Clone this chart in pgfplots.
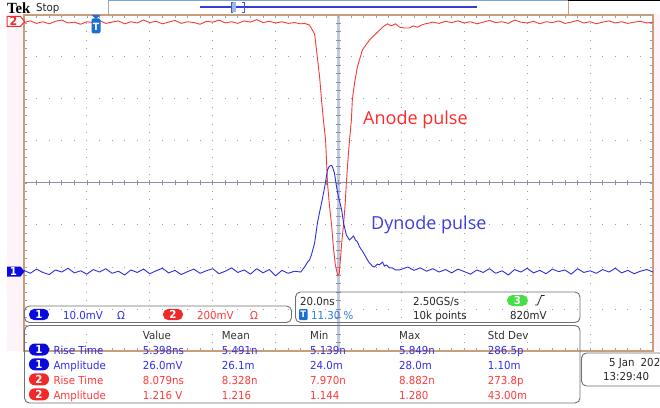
\documentclass[border=0pt]{standalone}
\usepackage{fontspec}
\setmainfont{DejaVu Sans}
\newfontfamily\ui[FakeStretch=0.93]{DejaVu Sans}
\newfontfamily\lab{Open Sans}
\newfontfamily\tekf[FakeStretch=0.95]{Liberation Serif}
\usepackage{pgfplots}
\pgfplotsset{compat=1.18}
\definecolor{bg}{HTML}{FCF4F9}
\definecolor{bordc}{HTML}{C89E7C}
\definecolor{gridc}{HTML}{9AA0B4}
\definecolor{centc}{HTML}{8A91A8}
\definecolor{centband}{HTML}{C3C9DD}
\definecolor{tracer}{HTML}{F53A3A}
\definecolor{traceb}{HTML}{2E2EE0}
\definecolor{ch1}{HTML}{0A0ADC}
\definecolor{ch1t}{HTML}{3030EE}
\definecolor{ch2}{HTML}{F02A2A}
\definecolor{ch2t}{HTML}{FF3A3A}
\definecolor{ch3}{HTML}{44E044}
\definecolor{trig}{HTML}{1E6CD6}
\definecolor{boxc}{HTML}{707070}
\definecolor{pct}{HTML}{2A7DE1}
\definecolor{recedge}{HTML}{7FA6CF}
\definecolor{recline}{HTML}{3A3ADA}
\definecolor{brfill}{HTML}{9FB8E8}
\definecolor{brline}{HTML}{4060B0}
\definecolor{anodec}{HTML}{FF2A2A}
\definecolor{dynodec}{HTML}{3E3EDC}
\newcommand\uit{\ui\fontsize{11}{13}\selectfont}
\begin{document}
\begin{tikzpicture}[x=1pt,y=1pt]
\useasboundingbox (0,0) rectangle (660,407);
\clip (0,0) rectangle (660,407);
% backgrounds
\fill[white] (0,0) rectangle (660,407);
\fill[bg] (7,56) rectangle (24,393);
\fill[bg] (653,56) rectangle (660,393);
\fill[white] (24,56) rectangle (653,392);
% dotted graticule
\foreach \i in {1,...,9}{\draw[gridc, line width=1pt, dash pattern=on 1pt off 7.4pt, dash phase=0.5pt] ({24+\i*62.9},56) -- ({24+\i*62.9},392);}
\foreach \j in {1,...,7}{\draw[gridc, line width=1pt, dash pattern=on 1pt off 11.58pt, dash phase=0.5pt] (24,{56+\j*42}) -- (653,{56+\j*42});}
% center lines
\fill[centband] (337.3,56) rectangle (340,392);
\draw[centc, line width=1pt] (24,224) -- (653,224);
\foreach \k in {1,...,49}{\draw[centc, line width=0.8pt] ({24+\k*12.58},221.5) -- ++(0,5);}
\foreach \k in {1,...,39}{\draw[centc, line width=0.8pt] (336,{56+\k*8.4}) -- ++(5,0);}
% border ticks
\foreach \k in {1,...,49}{\draw[gridc, line width=0.8pt] ({24+\k*12.58},392) -- ++(0,-3);\draw[gridc, line width=0.8pt] ({24+\k*12.58},56) -- ++(0,3);}
\foreach \k in {1,...,39}{\draw[gridc, line width=0.8pt] (24,{56+\k*8.4}) -- ++(3,0);\draw[gridc, line width=0.8pt] (653,{56+\k*8.4}) -- ++(-3,0);}
\begin{axis}[at={(24pt,56pt)}, anchor=south west, width=629pt, height=336pt, scale only axis,
  xmin=-100, xmax=100, ymin=-4, ymax=4, xtick=\empty, ytick=\empty,
  axis line style={draw=bordc, line width=1.3pt}, clip=true]
% channel 2 (anode), 200 mV/div, in divisions
\addplot[tracer, line width=0.9pt, line join=round] table {
x y
-100 3.82
-98 3.86
-96 3.80
-94 3.84
-92 3.79
-90 3.85
-88 3.88
-86 3.81
-84 3.83
-82 3.78
-80 3.84
-78 3.82
-76 3.87
-74 3.80
-72 3.83
-70 3.86
-68 3.79
-66 3.84
-64 3.81
-62 3.88
-60 3.82
-58 3.85
-56 3.79
-54 3.83
-52 3.87
-50 3.80
-48 3.84
-46 3.82
-44 3.78
-42 3.85
-40 3.83
-38 3.88
-36 3.81
-34 3.84
-32 3.80
-30 3.86
-28 3.83
-26 3.89
-24 3.82
-22 3.85
-20 3.81
-18 3.84
-16 3.80
-14 3.82
-12 3.79
-10.8 3.80
-9.2 3.76
-8.3 3.64
-7.6 3.55
-7.0 3.17
-6.0 2.52
-5.4 1.98
-4.8 1.50
-4.1 1.02
-3.5 0.00
-2.9 -0.52
-2.2 -1.00
-1.6 -1.55
-1.0 -1.95
-0.3 -2.19
0.2 -2.17
0.6 -1.83
1.1 -1.36
1.6 -1.00
2.1 -0.52
2.5 0.00
3.0 0.55
3.5 1.02
4.1 1.50
4.4 1.98
5.1 2.38
6.0 2.76
7.6 3.17
9.8 3.40
12.1 3.57
14.0 3.71
15.6 3.79
16.8 3.74
18.1 3.79
19.4 3.71
21.0 3.69
22.5 3.69
23.8 3.74
25.1 3.71
26.4 3.76
27.6 3.79
28.9 3.81
30 3.83
32 3.80
34 3.85
36 3.82
38 3.86
40 3.81
42 3.84
44 3.79
46 3.83
48 3.87
50 3.82
52 3.84
54 3.80
56 3.88
58 3.83
60 3.81
62 3.85
64 3.79
66 3.84
68 3.82
70 3.86
72 3.80
74 3.83
76 3.87
78 3.81
80 3.84
82 3.79
84 3.83
86 3.86
88 3.81
90 3.84
92 3.80
94 3.83
96 3.85
98 3.81
100 3.83
};
% channel 1 (dynode), 10 mV/div, in divisions
\addplot[traceb, line width=0.9pt, line join=round] table {
x y
-100 -2.08
-98 -2.15
-96 -2.05
-94 -2.13
-92 -2.18
-90 -2.07
-88 -2.12
-86 -2.03
-84 -2.14
-82 -2.09
-80 -2.17
-78 -2.06
-76 -2.12
-74 -2.04
-72 -2.15
-70 -2.10
-68 -2.19
-66 -2.07
-64 -2.13
-62 -2.05
-60 -2.16
-58 -2.09
-56 -2.03
-54 -2.14
-52 -2.08
-50 -2.18
-48 -2.11
-46 -2.05
-44 -2.15
-42 -2.09
-40 -2.04
-38 -2.16
-36 -2.10
-34 -2.02
-32 -2.13
-30 -2.07
-28 -2.17
-26 -2.04
-24 -2.14
-22 -2.06
-20 -2.21
-18 -2.08
-16 -2.15
-14 -2.10
-12 -2.12
-10.8 -2.00
-9.8 -1.88
-9.2 -1.83
-8.6 -1.71
-7.6 -1.43
-6.7 -0.95
-6.0 -0.69
-5.4 -0.48
-4.4 -0.10
-3.5 0.31
-2.9 0.40
-2.2 0.42
-1.9 0.38
-1.3 0.24
-0.6 -0.10
0 -0.33
1.0 -0.64
1.6 -0.95
2.5 -1.24
3.5 -1.36
4.1 -1.31
4.8 -1.26
5.4 -1.36
6.0 -1.40
6.7 -1.52
7.6 -1.62
8.3 -1.71
9.2 -1.83
9.8 -1.90
10.8 -1.98
11.4 -2.00
12.4 -1.93
13.0 -1.95
14.0 -1.88
14.6 -1.98
15.2 -1.95
16.2 -2.02
17.1 -2.02
18.1 -2.07
19.4 -2.07
22 -2.00
24 -2.08
26 -2.02
28 -2.10
30 -2.04
32 -2.12
34 -2.06
36 -2.14
38 -2.05
40 -2.11
42 -2.17
44 -2.07
46 -2.13
48 -2.04
50 -2.15
52 -2.09
54 -2.19
56 -2.06
58 -2.12
60 -2.03
62 -2.14
64 -2.08
66 -2.16
68 -2.05
70 -2.11
72 -2.07
74 -2.17
76 -2.04
78 -2.13
80 -2.09
82 -2.15
84 -2.06
86 -2.12
88 -2.03
90 -2.14
92 -2.08
94 -2.16
96 -2.10
98 -2.06
100 -2.12
};
\end{axis}
% ---- top bar
\node[anchor=base west, inner sep=0, font=\tekf\bfseries\fontsize{15.5}{16}\selectfont] at (7,393.8) {Tek};
\node[anchor=base west, inner sep=0, font=\uit, text=black!85] at (36,395) {Stop};
\draw[gray!70, line width=0.8pt] (108,407) -- (108,393);
\draw[recedge, line width=1pt] (108,406) -- (568,406);
\draw[bordc, line width=1pt] (568,407) -- (568,393);
\draw[black, line width=1.5pt] (568,406.3) -- (660,406.3);
\draw[recline, line width=1.3pt] (200,400) -- (477,400);
\fill[brfill] (231,394.5) rectangle (236,405);
\draw[brline, line width=0.9pt] (233,405) -- (231,405) -- (231,394.5) -- (233,394.5);
\draw[brline, line width=0.9pt] (242,405) -- (244,405) -- (244,394.5) -- (242,394.5);
% ---- channel markers
\filldraw[fill=white, draw=ch2, line width=1pt] (7,390.5) -- (20.5,390.5) -- (24.5,385.5) -- (20.5,380.5) -- (7,380.5) -- cycle;
\node[text=ch2, font=\ui\bfseries\fontsize{12}{12}\selectfont, inner sep=0] at (13.5,385.5) {2};
\fill[ch1] (7,140.5) -- (20.5,140.5) -- (24.5,135.5) -- (20.5,130.5) -- (7,130.5) -- cycle;
\node[text=white, font=\ui\bfseries\fontsize{11}{11}\selectfont, inner sep=0] at (13.5,135.5) {1};
% trigger position marker
\fill[trig] (91.5,392) -- (100.5,392) -- (96,388) -- cycle;
\fill[trig, rounded corners=1.5pt] (91.5,388.5) rectangle (100.5,373.5);
\node[text=white, font=\ui\bfseries\fontsize{10}{10}\selectfont, inner sep=0] at (96,380.5) {T};
% ---- annotations
\node[anchor=base west, inner sep=0, text=anodec, font=\lab\fontsize{18}{20}\selectfont] at (363,282.7) {Anode pulse};
\node[anchor=base west, inner sep=0, text=dynodec, font=\lab\fontsize{18}{20}\selectfont] at (371,177.7) {Dynode pulse};
% ---- box A: channel scales
\draw[boxc, line width=0.9pt, rounded corners=5pt] (24.5,101) rectangle (291.5,84.5);
\fill[ch1, rounded corners=5.5pt] (29,86.8) rectangle (49,98.2);
\node[text=white, font=\ui\bfseries\fontsize{11}{11}\selectfont, inner sep=0] at (39,92.5) {1};
\node[anchor=base west, inner sep=0, font=\uit, text=ch1t] at (63,88) {10.0mV};
\node[anchor=base west, inner sep=0, font=\uit, text=ch1t] at (117,88) {Ω};
\fill[ch2, rounded corners=5.5pt] (163,86.8) rectangle (183,98.2);
\node[text=white, font=\ui\bfseries\fontsize{11}{11}\selectfont, inner sep=0] at (173,92.5) {2};
\node[anchor=base west, inner sep=0, font=\uit, text=ch2t] at (197,88) {200mV};
\node[anchor=base west, inner sep=0, font=\uit, text=ch2t] at (250,88) {Ω};
% ---- box B: horizontal / trigger
\draw[boxc, line width=0.9pt, rounded corners=5pt] (295.5,115) rectangle (580,84.5);
\node[anchor=base west, inner sep=0, font=\uit, text=black!85] at (300,102) {20.0ns};
\node[anchor=base west, inner sep=0, font=\uit, text=black!85] at (413,102) {2.50GS/s};
\fill[ch3, rounded corners=5.5pt] (507,101) rectangle (528,112);
\node[text=white, font=\ui\bfseries\fontsize{11}{11}\selectfont, inner sep=0] at (517.5,106.5) {3};
\draw[black!85, line width=0.8pt] (535,102) -- (537.5,102) -- (541.5,111.5) -- (544.5,111.5);
\fill[trig, rounded corners=1pt] (299,87) rectangle (307.5,98);
\node[text=white, font=\ui\bfseries\fontsize{9}{9}\selectfont, inner sep=0] at (303.25,92.5) {T};
\node[anchor=base west, inner sep=0, font=\uit, text=pct] at (311,88) {11.30 \%};
\node[anchor=base west, inner sep=0, font=\uit, text=black!85] at (413,88) {10k points};
\node[anchor=base west, inner sep=0, font=\uit, text=black!85] at (510,88) {820mV};
% ---- box C: measurements
\draw[boxc, line width=0.9pt, rounded corners=5pt] (24.5,81.5) rectangle (580,4);
\foreach \x/\t in {142.7/Value, 221.7/Mean, 310/Min, 399/Max, 487.7/Std Dev}{
  \node[anchor=base west, inner sep=0, font=\uit, text=black!80] at (\x,67.7) {\t};}
\foreach \yc/\yb/\pc/\tc/\n/\a/\b/\c/\d/\e/\f in {
  57.5/53/ch1/ch1t/1/Rise Time/5.398ns/5.491n/5.139n/5.849n/286.5p,
  42.7/37.7/ch1/ch1t/1/Amplitude/26.0mV/26.1m/24.0m/28.0m/1.10m,
  27.7/22.7/ch2/ch2t/2/Rise Time/8.079ns/8.328n/7.970n/8.882n/273.8p,
  12.7/7.7/ch2/ch2t/2/Amplitude/1.216 V/1.216/1.144/1.280/43.00m}{
  \fill[\pc, rounded corners=5.8pt] (29,{\yc-6}) rectangle (49,{\yc+6});
  \node[text=white, font=\ui\bfseries\fontsize{11}{11}\selectfont, inner sep=0] at (39,\yc) {\n};
  \node[anchor=base west, inner sep=0, font=\uit, text=\tc] at (53.3,\yb) {\a};
  \node[anchor=base west, inner sep=0, font=\uit, text=\tc] at (142.7,\yb) {\b};
  \node[anchor=base west, inner sep=0, font=\uit, text=\tc] at (221.7,\yb) {\c};
  \node[anchor=base west, inner sep=0, font=\uit, text=\tc] at (310,\yb) {\d};
  \node[anchor=base west, inner sep=0, font=\uit, text=\tc] at (399,\yb) {\e};
  \node[anchor=base west, inner sep=0, font=\uit, text=\tc] at (487.7,\yb) {\f};
}
% ---- date box
\draw[boxc, line width=0.9pt, rounded corners=5pt] (581.5,54) rectangle (675,21);
\node[anchor=base west, inner sep=0, font=\uit, text=black!85] at (609,40.3) {5 Jan\hspace{6pt}2023};
\node[anchor=base west, inner sep=0, font=\uit, text=black!85] at (603,26.3) {13:29:40};
\end{tikzpicture}
\end{document}
